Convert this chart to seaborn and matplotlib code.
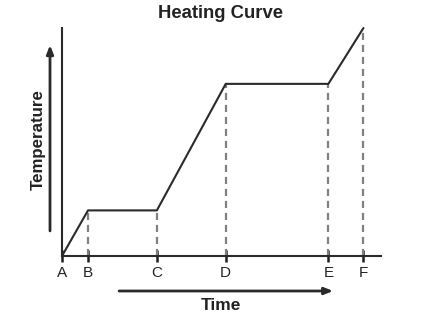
import matplotlib
matplotlib.use("Agg")
import matplotlib.pyplot as plt
import seaborn as sns
import pandas as pd

# Data
points = ["A", "B", "C", "D", "E", "F"]
time_vals = [0, 2.0, 7.3, 12.6, 20.5, 23.2]
temp_vals = [0, 20, 20, 75.5, 75.5, 100]

df = pd.DataFrame({"Time": time_vals, "Temperature": temp_vals, "Point": points})

sns.set_style("white")
plt.rcParams["font.family"] = ["Liberation Sans", "DejaVu Sans"]
plt.rcParams["xtick.bottom"] = True
plt.rcParams["xtick.major.size"] = 9
plt.rcParams["xtick.major.width"] = 1.8
plt.rcParams["xtick.direction"] = "inout"
plt.rcParams["xtick.color"] = "#1e1e1e"

fig = plt.figure(figsize=(4.24, 3.27), dpi=100)
ax = fig.add_axes([62 / 424, 1 - 256 / 327, 319 / 424, 228 / 327])

sns.lineplot(data=df, x="Time", y="Temperature", ax=ax, color="#2a2a2a",
             linewidth=1.5, sort=False, estimator=None, clip_on=False, zorder=3)

# dashed drop lines
ax.vlines(df["Time"].iloc[1:], 0, df["Temperature"].iloc[1:], colors="#808080",
          linestyles=(0, (3.2, 2.2)), linewidth=1.6, zorder=2)

ax.set_xlim(0, 24.55)
ax.set_ylim(0, 100)

for s in ["top", "right"]:
    ax.spines[s].set_visible(False)
for s in ["left", "bottom"]:
    ax.spines[s].set_color("#2a2a2a")
    ax.spines[s].set_linewidth(1.5)

ax.set_xticks(time_vals)
ax.set_xticklabels(points, fontsize=11, color="#222222")
ax.set_yticks([])
ax.tick_params(axis="x", bottom=True, direction="inout", length=9, width=1.8,
               color="#1e1e1e", pad=3)
for t in ax.xaxis.get_major_ticks():
    t.tick1line.set_zorder(5)
ax.set_xlabel("")
ax.set_ylabel("")

# Arrows
ax.annotate("", xy=(-0.0376, 0.925), xytext=(-0.0376, 0.11), xycoords="axes fraction",
            arrowprops=dict(arrowstyle="-|>,head_length=0.5,head_width=0.2", color="#2a2a2a",
                            lw=2, shrinkA=0, shrinkB=0))
ax.annotate("", xy=(0.85, -0.1535), xytext=(0.179, -0.1535), xycoords="axes fraction",
            arrowprops=dict(arrowstyle="-|>,head_length=0.5,head_width=0.2", color="#2a2a2a",
                            lw=2, shrinkA=0, shrinkB=0))

ax.text(0.497, -0.215, "Time", transform=ax.transAxes, ha="center", va="center",
        fontsize=12.5, fontweight="bold", color="#222222")
ax.text(-0.0737, 0.509, "Temperature", transform=ax.transAxes, ha="center", va="center",
        rotation=90, fontsize=12.2, fontweight="bold", color="#222222")

fig.text(0.521, 1 - 13 / 327, "Heating Curve", ha="center", va="center",
         fontsize=13.3, fontweight="bold", color="#222222")

fig.savefig("out.png", dpi=100)
